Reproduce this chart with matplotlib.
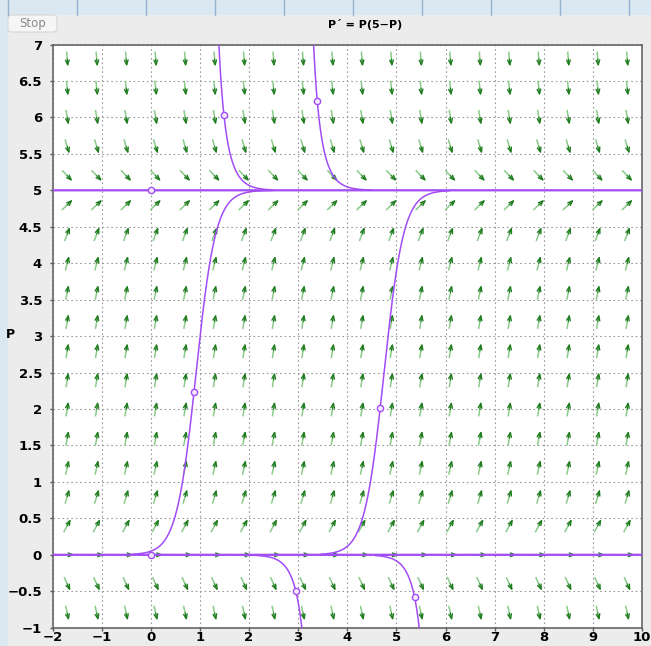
import numpy as np
import matplotlib
matplotlib.use("Agg")
import matplotlib.pyplot as plt
from matplotlib.patches import Rectangle, FancyBboxPatch

# Slope field  P' = P(5-P)
def slope(t, p):
    return p * (5 - p)

# grid of direction arrows
t_arrows = [-1.7, -1.1, -0.5, 0.1, 0.7, 1.3, 1.9, 2.5, 3.1, 3.7,
            4.3, 4.9, 5.5, 6.1, 6.7, 7.3, 7.9, 8.5, 9.1, 9.7]
p_arrows = [6.8, 6.4, 6.0, 5.6, 5.2, 4.8, 4.4, 4.0, 3.6, 3.2,
            2.8, 2.4, 2.0, 1.6, 1.2, 0.8, 0.4, 0.0, -0.4, -0.8]

# initial points of the solution curves
t_start = [0.0, 0.0, 0.88, 4.67, 1.49, 3.39, 2.95, 5.37]
p_start = [5.0, 0.0, 2.23, 2.01, 6.03, 6.22, -0.49, -0.58]
span_back = [2.0, 2.0, 1.25, 1.2, 1.0, 1.0, 1.0, 0.8]
span_fwd = [10.0, 10.0, 1.6, 1.4, 0.95, 1.1, 1.0, 1.0]

x_ticks = list(range(-2, 11))
y_ticks = [-1, -0.5, 0, 0.5, 1, 1.5, 2, 2.5, 3, 3.5, 4, 4.5, 5, 5.5, 6, 6.5, 7]

W, H = 651, 646
fig = plt.figure(figsize=(W / 100, H / 100), dpi=100)
fig.patch.set_facecolor("#dce8f1")


def px(x, y, w, h):
    # pixel box (top-left origin) -> figure fraction
    return (x / W, 1 - (y + h) / H, w / W, h / H)


# window frame
x0, y0, w0, h0 = px(8, 15, W - 8, H - 15)
fig.add_artist(Rectangle((x0, y0), w0, h0, transform=fig.transFigure,
                         facecolor="#ececec", edgecolor="none", zorder=0))
for lx in np.arange(7.5, W, 69):
    fig.add_artist(plt.Line2D([lx / W, lx / W], [1 - 15 / H, 1],
                              transform=fig.transFigure, color="#93b3d1", lw=1))
bx, by, bw, bh = px(8, 15, 49, 17)
fig.add_artist(FancyBboxPatch((bx, by), bw, bh, transform=fig.transFigure,
                              boxstyle="round,pad=0,rounding_size=0.006",
                              facecolor="#f6f6f6", edgecolor="#d6d6d6", lw=0.8))
fig.text(32.5 / W, 1 - 24 / H, "Stop", ha="center", va="center",
         fontsize=8.5, color="#8a8a8a")
fig.text(365 / W, 1 - 25 / H, "P\u00b4 = P(5\u2212P)", ha="center", va="center",
         fontsize=8, fontweight="bold")
fig.text(10 / W, 1 - 335 / H, "P", ha="center", va="center",
         fontsize=9, fontweight="bold")

ax_px = (52.5, 44.5, 642 - 52.5, 627.7 - 44.5)
ax = fig.add_axes(px(*ax_px))
ax.set_facecolor("white")
ax.set_xlim(-2, 10)
ax.set_ylim(-1, 7)

ax.set_xticks(x_ticks)
ax.set_xticklabels([str(v).replace("-", "\u2212") for v in x_ticks])
ax.set_yticks(y_ticks)
ax.set_yticklabels([("%g" % v).replace("-", "\u2212") for v in y_ticks])
ax.tick_params(length=2.5, width=1, color="#555555", labelsize=9.5)
ax.tick_params(axis="x", pad=0)
ax.tick_params(axis="y", pad=5)
for lab in ax.get_xticklabels() + ax.get_yticklabels():
    lab.set_fontweight("bold")
for s in ax.spines.values():
    s.set_color("#666666")
    s.set_linewidth(1.2)

ax.grid(True, color="#9a9a9a", linestyle=(0, (1.5, 2.5)), linewidth=0.8)
ax.set_axisbelow(True)

# direction field: arrows of fixed screen length, angle = atan(slope)
sx = ax_px[2] / 12   # pixels per unit t
sy = ax_px[3] / 8    # pixels per unit P
Lpx = 15
for t in t_arrows:
    for p in p_arrows:
        ang = np.arctan(slope(t, p))
        dx = Lpx * np.cos(ang) / sx
        dy = Lpx * np.sin(ang) / sy
        tail = (t - dx / 2, p - dy / 2)
        head = (t + dx / 2, p + dy / 2)
        ax.plot([tail[0], t], [tail[1], p], color="#8acb8a",
                lw=1.1, solid_capstyle="butt", zorder=2)
        ax.annotate("", xy=head, xytext=(t, p),
                    arrowprops=dict(arrowstyle="->,head_length=0.55,head_width=0.22",
                                    color="#1f7d1f", lw=1.0, shrinkA=0, shrinkB=0,
                                    mutation_scale=6), zorder=2)

# solution curves
purple = "#a24cf6"
for t0, p0, sb, sf in zip(t_start, p_start, span_back, span_fwd):
    t = np.linspace(t0 - sb, t0 + sf, 2000)
    if p0 in (0.0, 5.0):
        p = np.full_like(t, p0)
        lw = 1.6
    else:
        d = p0 + (5 - p0) * np.exp(-5 * (t - t0))
        p = np.where(d > 0.02, 5 * p0 / np.where(d > 0.02, d, 1), np.nan)
        p[(p > 9) | (p < -3)] = np.nan
        lw = 1.1
    ax.plot(t, p, color=purple, lw=lw, zorder=3)
    ax.plot([t0], [p0], "o", ms=4.5, mfc="#f4eaff", mec=purple, mew=1, zorder=4)

fig.savefig("out.png", dpi=100, facecolor=fig.get_facecolor())
